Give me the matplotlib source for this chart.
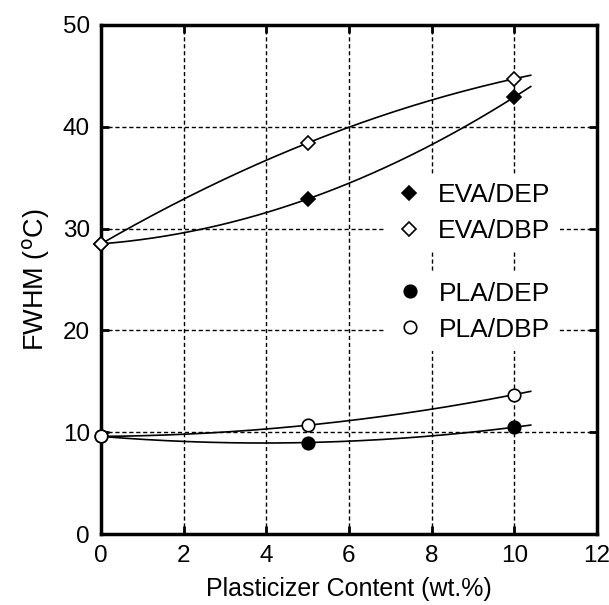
import numpy as np
import matplotlib.pyplot as plt


plt.rcParams["font.family"] = ["Liberation Sans", "DejaVu Sans"]

# plasticizer content (wt.%)
content = [0, 5, 10]

# FWHM values (deg C)
eva_dep = [28.5, 32.9, 42.9]
eva_dbp = [28.5, 38.4, 44.7]
pla_dep = [9.6, 9.0, 10.5]
pla_dbp = [9.6, 10.7, 13.7]

x_ticks = [0, 2, 4, 6, 8, 10, 12]
y_ticks = [0, 10, 20, 30, 40, 50]


def fit_curve(x, y, x_end=10.4):
    # second order trend line through the points
    coef = np.polyfit(x, y, 2)
    xs = np.linspace(0, x_end, 200)
    return xs, np.polyval(coef, xs)


fig = plt.figure(figsize=(6.09, 6.05), dpi=100)
ax = fig.add_axes([0.166, 0.117, 0.814, 0.842])

# grid
for gx in x_ticks[1:-1]:
    ax.axvline(gx, color="black", lw=1, ls=(0, (3, 2)), zorder=1)
for gy in y_ticks[1:-1]:
    ax.axhline(gy, color="black", lw=1, ls=(0, (3, 2)), zorder=1)

series = [
    (eva_dep, "D", "black", 7, "EVA/DEP"),
    (eva_dbp, "D", "white", 7, "EVA/DBP"),
    (pla_dep, "o", "black", 9, "PLA/DEP"),
    (pla_dbp, "o", "white", 9, "PLA/DBP"),
]
handles = []
for y, marker, face, ms, label in series:
    xs, ys = fit_curve(content, y)
    ax.plot(xs, ys, color="black", lw=1.2, zorder=2)
    h, = ax.plot(content, y, ls="none", marker=marker, ms=ms, mfc=face,
                 mec="black", mew=1.2, zorder=3, label=label, clip_on=False)
    handles.append(h)

ax.set_xlim(0, 12)
ax.set_ylim(0, 50)
ax.set_xticks(x_ticks)
ax.set_yticks(y_ticks)
ax.tick_params(direction="in", length=6, width=2, labelsize=17.5, pad=8,
               top=True, right=True)
for s in ax.spines.values():
    s.set_linewidth(2.5)

ax.set_xlabel("Plasticizer Content (wt.%)", fontsize=18, labelpad=7)
ax.set_ylabel("FWHM ($^{\\rm o}$C)", fontsize=19.5, labelpad=8)

leg_kw = dict(frameon=True, facecolor="white", edgecolor="none", framealpha=1,
              fancybox=False, fontsize=19, labelspacing=0.45, handletextpad=0.5,
              handlelength=1.2, borderpad=0.35, loc="center")
leg1 = ax.legend(handles=handles[:2], bbox_to_anchor=(0.748, 0.630), **leg_kw)
ax.add_artist(leg1)
ax.legend(handles=handles[2:], bbox_to_anchor=(0.748, 0.437), **leg_kw)

fig.savefig("out.png", dpi=100)
